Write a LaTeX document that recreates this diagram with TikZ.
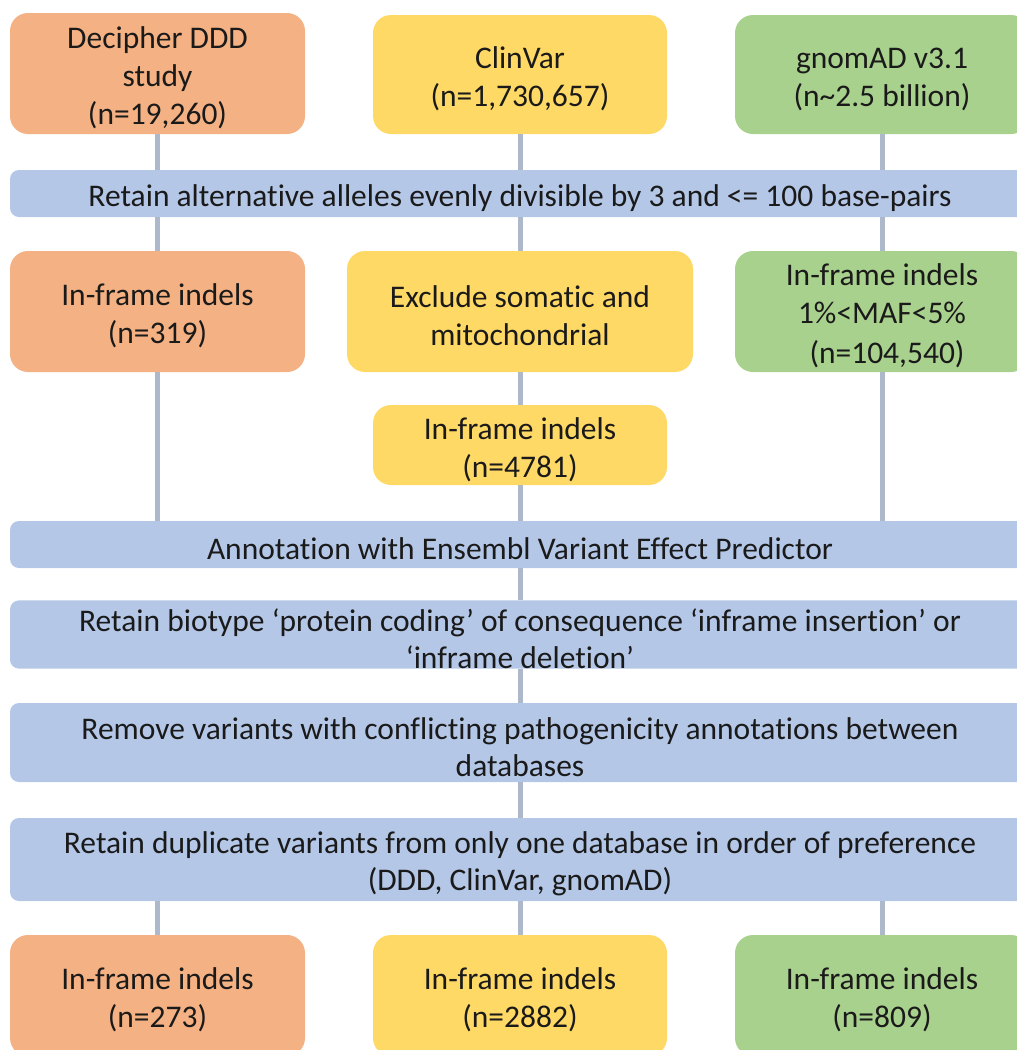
\documentclass[tikz,border=0pt]{standalone}
\usepackage{fontspec}
\setmainfont{Carlito}[Ligatures={NoCommon}]
\definecolor{cOrange}{HTML}{F4B183}
\definecolor{cYellow}{HTML}{FFD966}
\definecolor{cGreen}{HTML}{A9D18E}
\definecolor{cBlue}{HTML}{B4C7E7}
\definecolor{cLine}{HTML}{ADB9CA}
\definecolor{cText}{HTML}{1A1A1A}
\newcommand{\dn}{\rule{0pt}{31pt}}
\tikzset{
  box/.style={rounded corners=18pt, inner sep=0pt, align=center, text=cText,
    font=\fontsize{31.5}{38}\selectfont},
  obox/.style={box, fill=cOrange},
  ybox/.style={box, fill=cYellow},
  gbox/.style={box, fill=cGreen},
  bar/.style={rounded corners=9pt, inner sep=0pt, align=center, text=cText, fill=cBlue,
    font=\fontsize{31.5}{37}\selectfont, minimum width=1020pt},
  conn/.style={draw=cLine, line width=5pt},
}
\begin{document}
\begin{tikzpicture}[x=1pt,y=-1pt]
\useasboundingbox (0,0) rectangle (1017,1050);
\clip (0,0) rectangle (1017,1050);
% top row
\node[obox, minimum width=295pt, minimum height=121pt] (d1) at (157.5,73.5) {\dn Decipher DDD\\study\\(n=19,260)};
\node[ybox, minimum width=294pt, minimum height=119pt] (c1) at (520,74.5) {\dn ClinVar\\(n=1,730,657)};
\node[gbox, minimum width=294pt, minimum height=119pt] (g1) at (882,74.5) {\dn gnomAD v3.1\\(n\textasciitilde2.5 billion)};
% bar 1
\node[bar, minimum height=47pt] (b1) at (520,193.5) {\dn Retain alternative alleles evenly divisible by 3 and <= 100 base-pairs};
% row 2
\node[obox, minimum width=295pt, minimum height=121pt] (d2) at (157.5,311.5) {\dn In-frame indels\\(n=319)};
\node[ybox, minimum width=346pt, minimum height=121pt] (c2) at (520,311.5) {\dn Exclude somatic and\\mitochondrial};
\node[gbox, minimum width=294pt, minimum height=121pt] (g2) at (882,311.5) {\dn In-frame indels\\1\%<MAF<5\%\\[2pt]\hspace*{10pt}(n=104,540)};
% row 3
\node[ybox, minimum width=294pt, minimum height=80pt] (c3) at (520,445) {\dn In-frame indels\\(n=4781)};
% bars
\node[bar, minimum height=47pt] (b2) at (520,544.5) {\dn Annotation with Ensembl Variant Effect Predictor};
\node[bar, minimum height=67pt] (b3) at (520,634.5) {\dn Retain biotype ‘protein coding’ of consequence ‘inframe insertion’ or\\‘inframe deletion’};
\node[bar, minimum height=79pt] (b4) at (520,742.5) {\dn Remove variants with conflicting pathogenicity annotations between\\databases};
\node[bar, minimum height=83pt] (b5) at (520,859.5) {\dn Retain duplicate variants from only one database in order of preference\\(DDD, ClinVar, gnomAD)};
% bottom row
\node[obox, minimum width=295pt, minimum height=121pt] (d4) at (157.5,995.5) {\dn In-frame indels\\(n=273)};
\node[ybox, minimum width=294pt, minimum height=121pt] (c4) at (520,995.5) {\dn In-frame indels\\(n=2882)};
\node[gbox, minimum width=294pt, minimum height=121pt] (g4) at (882,995.5) {\dn In-frame indels\\(n=809)};
% connectors
\draw[conn] (d1.south) -- (d1.south |- b1.north);
\draw[conn] (c1.south) -- (c1.south |- b1.north);
\draw[conn] (g1.south) -- (g1.south |- b1.north);
\draw[conn] (d2.north |- b1.south) -- (d2.north);
\draw[conn] (c2.north |- b1.south) -- (c2.north);
\draw[conn] (g2.north |- b1.south) -- (g2.north);
\draw[conn] (d2.south) -- (d2.south |- b2.north);
\draw[conn] (c2.south) -- (c3.north);
\draw[conn] (c3.south) -- (c3.south |- b2.north);
\draw[conn] (g2.south) -- (g2.south |- b2.north);
\draw[conn] (b2.south) -- (b3.north);
\draw[conn] (b3.south) -- (b4.north);
\draw[conn] (b4.south) -- (b5.north);
\draw[conn] (d4.north |- b5.south) -- (d4.north);
\draw[conn] (c4.north |- b5.south) -- (c4.north);
\draw[conn] (g4.north |- b5.south) -- (g4.north);
\end{tikzpicture}
\end{document}
